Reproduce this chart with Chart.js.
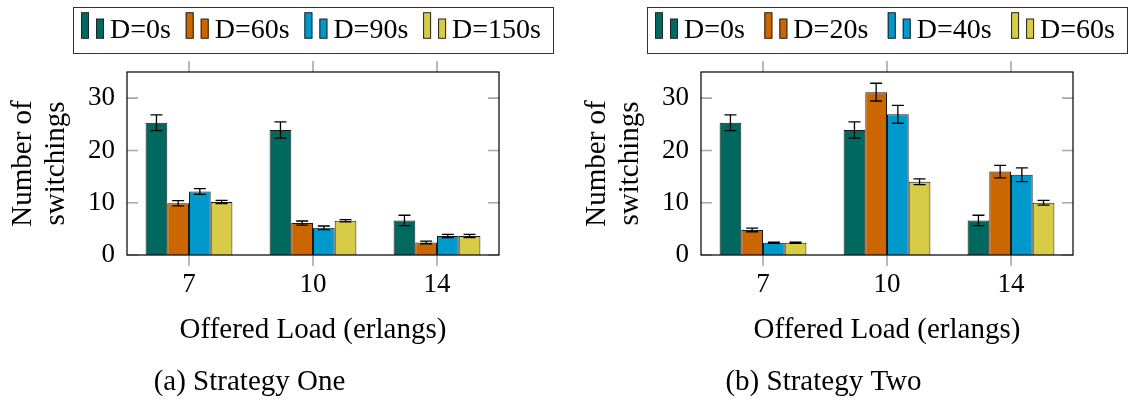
<!DOCTYPE html>
<html>
<head>
<meta charset="utf-8">
<script src="https://cdn.jsdelivr.net/npm/chart.js@4/dist/chart.umd.min.js"></script>
<style>
  body { margin: 0; background: #fff; }
  #wrap { position: relative; width: 1129px; height: 403px; }
  canvas { position: absolute; top: 0; }
  #chartOne { left: 0; }
  #chartTwo { left: 565px; }
</style>
</head>
<body>
<div id="wrap">
  <canvas id="chartOne" width="565" height="403"></canvas>
  <canvas id="chartTwo" width="564" height="403"></canvas>
</div>
<script>
// Offered load categories and y ticks
const loads = ['7', '10', '14'];
const yTicks = [0, 10, 20, 30];

// (a) Strategy One
const oneLabels = ['D=0s', 'D=60s', 'D=90s', 'D=150s'];
const oneD0 = [25.3, 23.9, 6.6];
const oneD0Err = [1.5, 1.55, 1.0];
const oneD60 = [9.9, 6.1, 2.4];
const oneD60Err = [0.5, 0.4, 0.25];
const oneD90 = [12.15, 5.2, 3.65];
const oneD90Err = [0.55, 0.35, 0.3];
const oneD150 = [10.15, 6.55, 3.65];
const oneD150Err = [0.3, 0.2, 0.3];

// (b) Strategy Two
const twoLabels = ['D=0s', 'D=20s', 'D=40s', 'D=60s'];
const twoD0 = [25.3, 23.9, 6.6];
const twoD0Err = [1.5, 1.55, 1.0];
const twoD20 = [4.8, 31.15, 15.95];
const twoD20Err = [0.35, 1.7, 1.2];
const twoD40 = [2.35, 26.9, 15.35];
const twoD40Err = [0.1, 1.7, 1.3];
const twoD60 = [2.35, 14.0, 10.0];
const twoD60Err = [0.1, 0.55, 0.45];

const FAMILY = "'Liberation Serif', 'DejaVu Serif', serif";
const barColors = ['#00695f', '#cc6600', '#0099cc', '#d8cb47'];

// pgfplots-like frame, ticks, error bars and the two-bar legend
function pgfPlugin(errs) {
  return {
    id: 'pgfLook',
    afterDatasetsDraw(chart) {
      const { ctx, chartArea: a, scales: { x, y } } = chart;
      ctx.save();
      // error bars
      ctx.strokeStyle = '#000';
      ctx.lineWidth = 1.3;
      chart.data.datasets.forEach((ds, i) => {
        chart.getDatasetMeta(i).data.forEach((bar, j) => {
          const v = ds.data[j], e = errs[i][j];
          const t = y.getPixelForValue(v + e), b = y.getPixelForValue(v - e);
          const cx = bar.x, h = 6;
          ctx.beginPath();
          ctx.moveTo(cx, t); ctx.lineTo(cx, b);
          ctx.moveTo(cx - h, t); ctx.lineTo(cx + h, t);
          ctx.moveTo(cx - h, b); ctx.lineTo(cx + h, b);
          ctx.stroke();
        });
      });
      // ticks
      ctx.strokeStyle = '#a8a8a8';
      ctx.lineWidth = 1.6;
      ctx.beginPath();
      x.ticks.forEach((_, i) => {
        const px = x.getPixelForTick(i);
        ctx.moveTo(px, a.top - 11); ctx.lineTo(px, a.top);
        ctx.moveTo(px, a.bottom); ctx.lineTo(px, a.bottom + 11);
      });
      y.ticks.forEach(t => {
        const py = y.getPixelForValue(t.value);
        ctx.moveTo(a.left, py); ctx.lineTo(a.left + 11, py);
        ctx.moveTo(a.right - 11, py); ctx.lineTo(a.right, py);
      });
      ctx.stroke();
      // frame
      ctx.strokeStyle = '#111';
      ctx.lineWidth = 1.3;
      ctx.strokeRect(a.left, a.top, a.width, a.height);
      ctx.restore();
    },
    afterDraw(chart) {
      const { ctx, chartArea: a } = chart;
      const ds = chart.data.datasets;
      const boxW = 480, top = 7, bottom = 53, base = 38.3;
      const left = (a.left + a.right) / 2 - boxW / 2;
      ctx.save();
      ctx.font = `28px ${FAMILY}`;
      const widths = ds.map(d => 8 + 7 + 8 + 6 + ctx.measureText(d.label).width);
      const inner = boxW - 8 - 12;
      const gap = (inner - widths.reduce((s, w) => s + w, 0)) / (ds.length - 1);
      ctx.lineWidth = 1;
      ctx.strokeStyle = '#333';
      ctx.strokeRect(left + 0.5, top + 0.5, boxW, bottom - top);
      let cx = left + 8;
      ds.forEach((d, i) => {
        ctx.fillStyle = d.backgroundColor;
        ctx.strokeStyle = '#222';
        ctx.fillRect(cx, 12.7, 8, base - 12.7);
        ctx.strokeRect(cx + 0.5, 12.7, 7, base - 12.7);
        ctx.fillRect(cx + 15, 19, 8, base - 19);
        ctx.strokeRect(cx + 15.5, 19, 7, base - 19);
        ctx.fillStyle = '#000';
        ctx.textBaseline = 'alphabetic';
        ctx.fillText(d.label, cx + 29, base);
        cx += widths[i] + gap;
      });
      ctx.restore();
    }
  };
}

function makeChart(id, labels, series, errs, caption, padLeft, padRight) {
  const font = { family: FAMILY, size: 27, weight: 'normal', lineHeight: 1.2 };
  const big = { family: FAMILY, size: 29, weight: 'normal', lineHeight: 1.2 };
  return new Chart(document.getElementById(id), {
    type: 'bar',
    data: {
      labels: loads,
      datasets: series.map((data, i) => ({
        label: labels[i], data,
        backgroundColor: barColors[i],
        borderColor: '#1a1a1a', borderWidth: 1,
        categoryPercentage: 0.7, barPercentage: 1
      }))
    },
    options: {
      responsive: false, animation: false,
      layout: { padding: { top: 72, right: padRight, left: padLeft, bottom: 0 } },
      plugins: {
        legend: { display: false },
        tooltip: { enabled: false },
        title: {
          display: true, position: 'bottom', text: caption, color: '#000',
          font: big, padding: { top: 0, bottom: 3.6 }
        }
      },
      scales: {
        x: {
          grid: { display: false, drawTicks: false },
          border: { display: false },
          ticks: { color: '#000', font, padding: 14 },
          title: {
            display: true, text: 'Offered Load (erlangs)', color: '#000',
            font: big, padding: { top: 0, bottom: 17 }
          },
          afterFit: s => { s.height = 403 - 255 - 38.4; }
        },
        y: {
          min: 0, max: 35,
          afterBuildTicks: s => { s.ticks = yTicks.map(v => ({ value: v })); },
          grid: { display: false, drawTicks: false },
          border: { display: false },
          ticks: { color: '#000', font, padding: 12 },
          title: {
            display: true, text: ['Number of', 'switchings'], color: '#000',
            font: { family: FAMILY, size: 29, weight: 'normal', lineHeight: 1.14 },
            padding: { top: 7, bottom: 0 }
          },
          afterFit: s => { s.width = 127; }
        }
      }
    },
    plugins: [pgfPlugin(errs)]
  });
}

makeChart('chartOne', oneLabels,
  [oneD0, oneD60, oneD90, oneD150],
  [oneD0Err, oneD60Err, oneD90Err, oneD150Err],
  '(a) Strategy One', 0, 66);

makeChart('chartTwo', twoLabels,
  [twoD0, twoD20, twoD40, twoD60],
  [twoD0Err, twoD20Err, twoD40Err, twoD60Err],
  '(b) Strategy Two', 9, 56);
</script>
</body>
</html>
